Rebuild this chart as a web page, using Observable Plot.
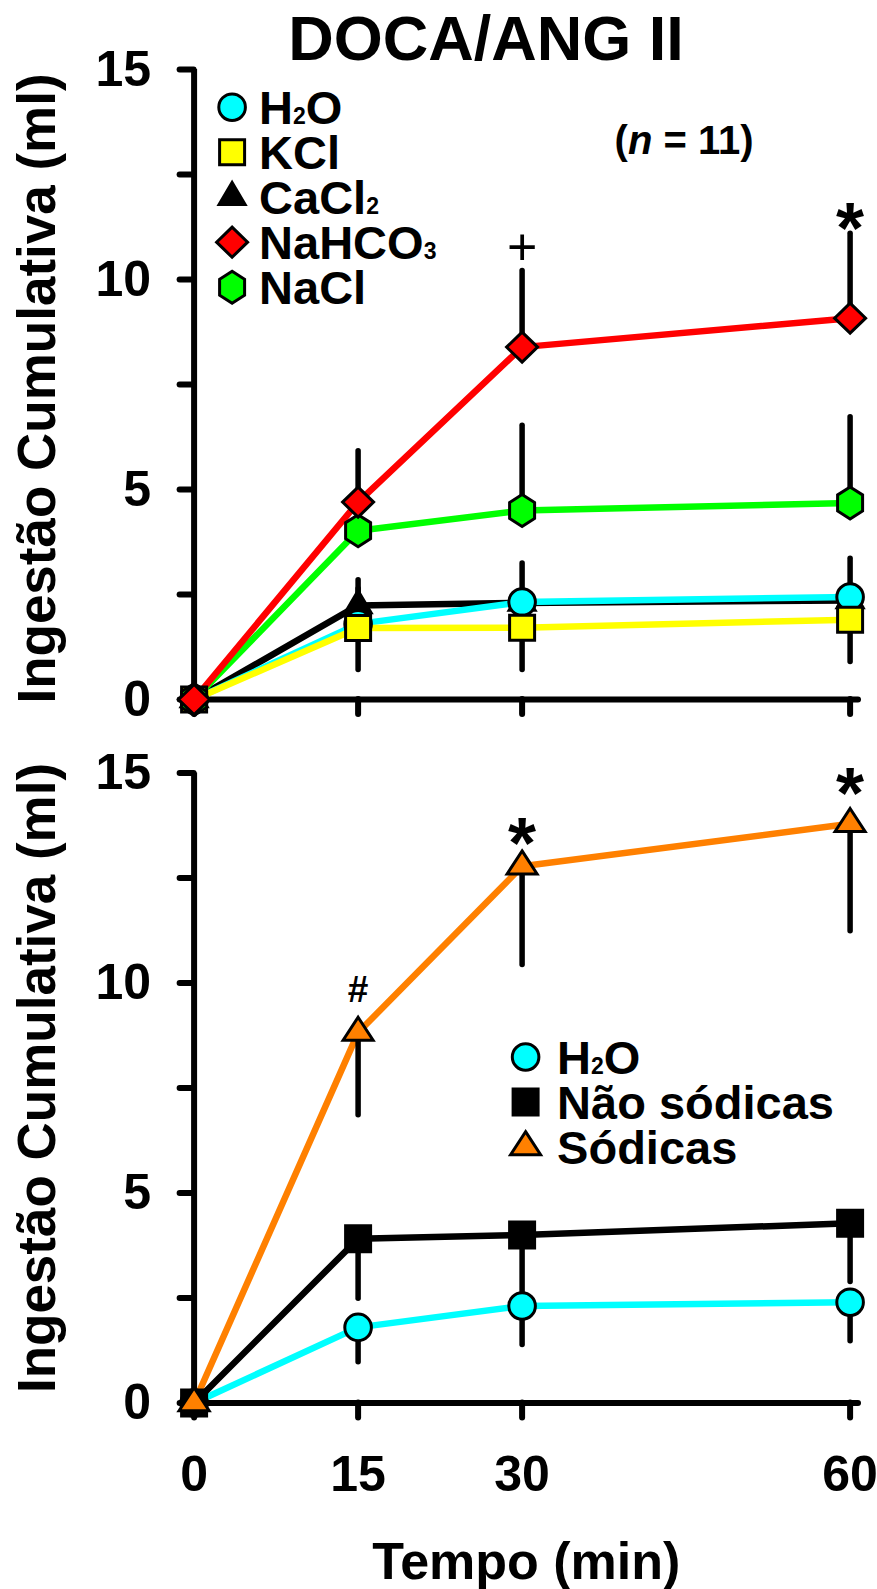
<!DOCTYPE html>
<html>
<head>
<meta charset="utf-8">
<script src="https://cdn.jsdelivr.net/npm/d3@7"></script>
<script src="https://cdn.jsdelivr.net/npm/@observablehq/plot@0.6"></script>
<style>
  html, body { margin: 0; padding: 0; background: #fff; }
  body { width: 877px; font-family: "Liberation Sans", Arial, sans-serif; }
  #title {
    box-sizing: content-box; width: 782px; height: 43px; padding-top: 7px; padding-left: 95px;
    font-size: 63px; line-height: 63px; font-weight: bold; text-align: center; white-space: nowrap;
    overflow: visible; position: relative; z-index: 1;
  }
  svg { display: block; }
</style>
</head>
<body>
<div id="title">DOCA/ANG II</div>
<div id="top"></div>
<div id="bottom"></div>
<script>
// ---------- data ----------
const timeMin = [0, 15, 30, 60];
const xTickValues = [0, 15, 30, 60];
const yTickValues = [0, 2.5, 5, 7.5, 10, 12.5, 15];
const yTickLabelValues = [0, 5, 10, 15];
const yAxisTitle = "Ingestão Cumulativa (ml)";
const xAxisTitle = "Tempo (min)";

// top panel: five solutions
const topSeriesNames = ["H_2O", "KCl", "CaCl_2", "NaHCO_3", "NaCl"];
const topH2O    = [0, 1.80, 2.32, 2.44];
const topKCl    = [0, 1.70, 1.71, 1.90];
const topCaCl2  = [0, 2.24, 2.30, 2.36];
const topNaHCO3 = [0, 4.70, 8.39, 9.08];
const topNaCl   = [0, 4.02, 4.50, 4.68];
const topH2OSem    = [0, 0.83, 0.92, 0.91];
const topKClSem    = [0, 1.00, 1.01, 1.01];
const topCaCl2Sem  = [0, 0.60, 0, 0];
const topNaHCO3Sem = [0, 1.21, 1.81, 2.01];
const topNaClSem   = [0, 0.90, 2.02, 2.04];
const topSemSide   = [1, -1, 1, 1, 1];   // +1 bar drawn upward, -1 downward
const topSignif      = ["+", "*"];
const topSignifTime  = [30, 60];
const topSignifY     = [10.77, 11.60];
const topNote = "(|n| = 11)";

// bottom panel: grouped
const bottomSeriesNames = ["H_2O", "Não sódicas", "Sódicas"];
const bottomH2O       = [0, 1.80, 2.31, 2.40];
const bottomNonSodium = [0, 3.91, 4.00, 4.28];
const bottomSodium    = [0, 8.82, 12.78, 13.79];
const bottomH2OSem       = [0, 0.83, 0.93, 0.93];
const bottomNonSodiumSem = [0, 1.43, 1.45, 1.40];
const bottomSodiumSem    = [0, 1.97, 2.35, 2.56];
const bottomSemSide = [-1, -1, -1];
const bottomSignif     = ["#", "*", "*"];
const bottomSignifTime = [15, 30, 60];
const bottomSignifY    = [9.85, 13.71, 14.90];

// ---------- styles ----------
const FONT = "Liberation Sans, Arial, sans-serif";
const symCircle = r => ({draw(c) { c.moveTo(r, 0); c.arc(0, 0, r, 0, 2 * Math.PI); c.closePath(); }});
const symRect = (w, h) => ({draw(c) { c.rect(-w / 2, -h / 2, w, h); }});
const symDiamond = (w, h) => ({draw(c) { c.moveTo(0, -h); c.lineTo(w, 0); c.lineTo(0, h); c.lineTo(-w, 0); c.closePath(); }});
const symHexagon = (w, h) => ({draw(c) { c.moveTo(0, -h); c.lineTo(w, -h / 2); c.lineTo(w, h / 2); c.lineTo(0, h); c.lineTo(-w, h / 2); c.lineTo(-w, -h / 2); c.closePath(); }});
const symTriangle = (w, h) => ({draw(c) { c.moveTo(0, -2 * h / 3); c.lineTo(w, h / 3); c.lineTo(-w, h / 3); c.closePath(); }});

const topColors  = ["#00ffff", "#ffff00", "#000000", "#ff0000", "#00ff00"];
const topSymbols = [symCircle(13.3), symRect(25, 25), symTriangle(13, 22), symDiamond(15.5, 15), symHexagon(12.5, 16)];
const topOrder   = [2, 0, 1, 4, 3];
const bottomColors  = ["#00ffff", "#000000", "#ff8000"];
const bottomSymbols = [symCircle(13.3), symRect(25, 26), symTriangle(15, 23)];
const bottomOrder   = [0, 1, 2];

function buildPanel(cfg) {
  const rows = [];
  cfg.names.forEach((n, i) => cfg.values[i].forEach((v, j) =>
    rows.push({s: i, t: timeMin[j], v, sem: cfg.sems[i][j], e: v + cfg.sides[i] * cfg.sems[i][j]})));
  const marks = [
    Plot.ruleY([0], {strokeWidth: 6, strokeLinecap: "round"}),
    Plot.ruleX([0], {strokeWidth: 6}),
    Plot.axisY({ticks: yTickValues, tickSize: 14, tickPadding: 29, label: null,
      tickFormat: d => yTickLabelValues.includes(d) ? String(d) : "",
      fontSize: 50, fontWeight: "bold", strokeWidth: 6, strokeLinecap: "round"}),
    Plot.axisX({ticks: xTickValues, tickSize: 15, tickPadding: 37, label: null,
      tickFormat: d => cfg.xLabels ? String(d) : "",
      fontSize: 50, fontWeight: "bold", strokeWidth: 6, strokeLinecap: "round"}),
    Plot.text([yAxisTitle], {text: d => d, frameAnchor: "left", rotate: -90, dx: -156, dy: cfg.yTitleDy,
      textAnchor: "middle", lineAnchor: "middle", fontSize: 53, fontWeight: "bold"})
  ];
  if (cfg.xLabels) marks.push(Plot.text([xAxisTitle], {text: d => d, frameAnchor: "bottom", dy: 159,
    textAnchor: "middle", lineAnchor: "middle", fontSize: 52, fontWeight: "bold"}));
  cfg.order.forEach(i => marks.push(Plot.line(rows.filter(r => r.s === i), {x: "t", y: "v", stroke: cfg.colors[i], strokeWidth: 6.5})));
  cfg.order.forEach(i => marks.push(Plot.ruleX(rows.filter(r => r.s === i && r.sem > 0),
    {x: "t", y1: "v", y2: "e", stroke: "black", strokeWidth: 5.5, strokeLinecap: "round"})));
  cfg.order.forEach(i => marks.push(Plot.dot(rows.filter(r => r.s === i),
    {x: "t", y: "v", symbol: cfg.symbols[i], fill: cfg.colors[i], stroke: "black", strokeWidth: 3, r: 10})));
  // significance marks
  const sig = cfg.signif.map((s, k) => ({s, t: cfg.signifT[k], y: cfg.signifY[k]}));
  marks.push(Plot.text(sig.filter(d => d.s === "*"), {x: "t", y: "y", text: "s", lineAnchor: "middle", fontSize: 72, fontWeight: "bold", dy: 18}));
  marks.push(Plot.text(sig.filter(d => d.s === "+"), {x: "t", y: "y", text: "s", lineAnchor: "middle", fontSize: 52, fontWeight: "normal", dy: 1}));
  marks.push(Plot.text(sig.filter(d => d.s === "#"), {x: "t", y: "y", text: "s", lineAnchor: "middle", fontSize: 37, fontWeight: "bold", dy: 1}));
  // legend
  cfg.names.forEach((n, i) => {
    const dy = cfg.legend.y0 + i * cfg.legend.step;
    marks.push(Plot.dot([0], {frameAnchor: "top-left", dx: cfg.legend.mx, dy, symbol: cfg.symbols[i],
      fill: cfg.colors[i], stroke: "black", strokeWidth: 3, r: 10}));
    marks.push(Plot.text([n], {text: d => d, frameAnchor: "top-left", dx: cfg.legend.tx, dy: dy + 2,
      textAnchor: "start", lineAnchor: "middle", fontSize: cfg.legend.fontSize, fontWeight: "bold"}));
  });
  if (cfg.note) marks.push(Plot.text([cfg.note], {text: d => d, frameAnchor: "top-left", dx: 490, dy: 72,
    textAnchor: "middle", lineAnchor: "middle", fontSize: 40, fontWeight: "bold"}));

  const svg = Plot.plot({
    width: 877, height: cfg.height,
    marginLeft: 193.6, marginRight: 19, marginTop: cfg.marginTop, marginBottom: cfg.marginBottom,
    x: {domain: [0, 60], range: [193.6, 849.6]},
    y: {domain: [0, 15]},
    style: {background: "transparent", overflow: "visible", fontFamily: FONT, color: "black"},
    marks
  });
  richText(svg);
  return svg;
}

// "_2" -> small digit, "|n|" -> italic
function richText(svg) {
  svg.querySelectorAll("text").forEach(t => {
    const s = t.textContent;
    if (!/_\d|\|[^|]+\|/.test(s)) return;
    while (t.firstChild) t.removeChild(t.firstChild);
    const re = /_(\d)|\|([^|]+)\|/g;
    let last = 0, m;
    while ((m = re.exec(s))) {
      if (m.index > last) t.appendChild(document.createTextNode(s.slice(last, m.index)));
      const ts = document.createElementNS("http://www.w3.org/2000/svg", "tspan");
      if (m[1] !== undefined) { ts.setAttribute("font-size", "23"); ts.textContent = m[1]; }
      else { ts.setAttribute("font-style", "italic"); ts.textContent = m[2]; }
      t.appendChild(ts);
      last = re.lastIndex;
    }
    if (last < s.length) t.appendChild(document.createTextNode(s.slice(last)));
  });
}

document.getElementById("top").appendChild(buildPanel({
  names: topSeriesNames,
  values: [topH2O, topKCl, topCaCl2, topNaHCO3, topNaCl],
  sems: [topH2OSem, topKClSem, topCaCl2Sem, topNaHCO3Sem, topNaClSem],
  sides: topSemSide, colors: topColors, symbols: topSymbols, order: topOrder,
  signif: topSignif, signifT: topSignifTime, signifY: topSignifY,
  legend: {mx: 38, tx: 65, y0: 37.7, step: 45, fontSize: 47},
  note: topNote, xLabels: false, yTitleDy: 4,
  height: 680, marginTop: 19, marginBottom: 31
}));

document.getElementById("bottom").appendChild(buildPanel({
  names: bottomSeriesNames,
  values: [bottomH2O, bottomNonSodium, bottomSodium],
  sems: [bottomH2OSem, bottomNonSodiumSem, bottomSodiumSem],
  sides: bottomSemSide, colors: bottomColors, symbols: bottomSymbols, order: bottomOrder,
  signif: bottomSignif, signifT: bottomSignifTime, signifY: bottomSignifY,
  legend: {mx: 331.5, tx: 363, y0: 284, step: 45, fontSize: 47},
  note: null, xLabels: true, yTitleDy: -10,
  height: 859, marginTop: 42.5, marginBottom: 186.5
}));
</script>
</body>
</html>
